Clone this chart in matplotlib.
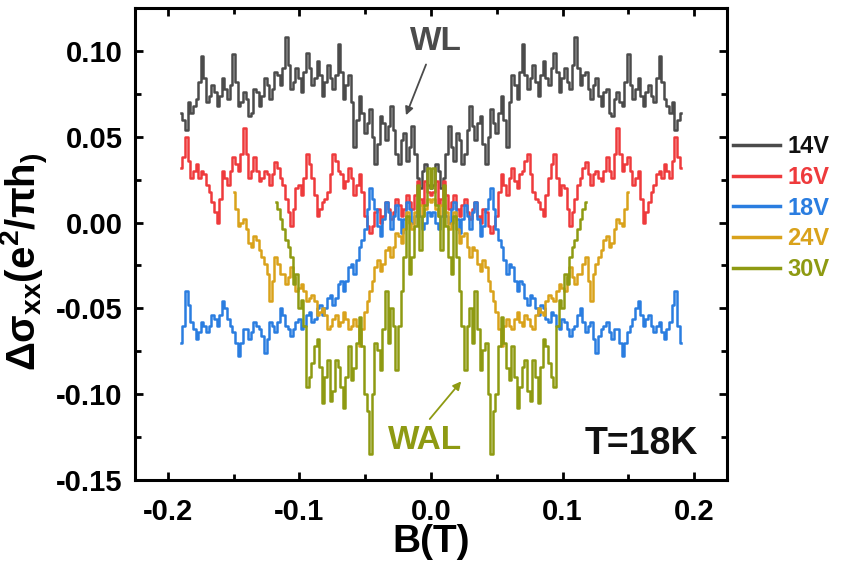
import numpy as np
import matplotlib
matplotlib.use("Agg")
import matplotlib.pyplot as plt

plt.rcParams['font.family'] = ['Liberation Sans', 'DejaVu Sans']
plt.rcParams['font.weight'] = 'bold'
plt.rcParams['axes.unicode_minus'] = False
plt.rcParams['mathtext.fontset'] = 'custom'
plt.rcParams['mathtext.rm'] = 'Liberation Sans:bold'
plt.rcParams['mathtext.it'] = 'Liberation Sans:bold'
plt.rcParams['mathtext.bf'] = 'Liberation Sans:bold'

labels = ['14V', '16V', '18V', '24V', '30V']

B_14 = np.linspace(-0.19, 0.19, 191)
B_16 = np.linspace(-0.19, 0.19, 191)
B_18 = np.linspace(-0.19, 0.19, 191)
B_24 = np.linspace(-0.15, 0.15, 151)
B_30 = np.linspace(-0.118, 0.118, 119)

s_14 = [0.064, 0.060, 0.054, 0.070, 0.064,
        0.068, 0.072, 0.082, 0.097, 0.084, 0.070, 0.074, 0.080, 0.076, 0.068,
        0.074, 0.084, 0.078, 0.072, 0.080, 0.098, 0.082, 0.068, 0.070, 0.076,
        0.072, 0.062, 0.064, 0.078, 0.076, 0.068, 0.074, 0.084, 0.080, 0.072,
        0.078, 0.088, 0.086, 0.080, 0.090, 0.108, 0.092, 0.078, 0.082, 0.090,
        0.084, 0.076, 0.088, 0.099, 0.090, 0.080, 0.084, 0.094, 0.086, 0.074,
        0.082, 0.092, 0.084, 0.078, 0.086, 0.104, 0.088, 0.072, 0.080, 0.086,
        0.070, 0.044, 0.060, 0.074, 0.064, 0.052, 0.058, 0.066, 0.050, 0.034,
        0.046, 0.062, 0.058, 0.048, 0.056, 0.068, 0.054, 0.040, 0.034, 0.048,
        0.052, 0.036, 0.044, 0.056, 0.040, 0.026, 0.020, 0.030, 0.034, 0.022,
        0.020,
        0.022, 0.034, 0.030, 0.020, 0.026, 0.040, 0.056, 0.044, 0.036, 0.052,
        0.048, 0.034, 0.040, 0.054, 0.068, 0.056, 0.048, 0.058, 0.062, 0.046,
        0.034, 0.050, 0.066, 0.058, 0.052, 0.064, 0.074, 0.060, 0.044, 0.070,
        0.086, 0.080, 0.072, 0.088, 0.104, 0.086, 0.078, 0.084, 0.092, 0.082,
        0.074, 0.086, 0.094, 0.084, 0.080, 0.090, 0.099, 0.088, 0.076, 0.084,
        0.090, 0.082, 0.078, 0.092, 0.108, 0.090, 0.080, 0.086, 0.088, 0.078,
        0.072, 0.080, 0.084, 0.074, 0.068, 0.076, 0.078, 0.064, 0.062, 0.072,
        0.076, 0.070, 0.068, 0.082, 0.098, 0.080, 0.072, 0.078, 0.084, 0.074,
        0.068, 0.076, 0.080, 0.074, 0.070, 0.084, 0.097, 0.082, 0.072, 0.068,
        0.064, 0.070, 0.054, 0.060, 0.064]

s_16 = [0.032, 0.038, 0.050, 0.036, 0.026,
        0.030, 0.034, 0.026, 0.030, 0.028, 0.022, 0.018, 0.012, 0.006, 0.000,
        0.014, 0.030, 0.026, 0.022, 0.030, 0.038, 0.034, 0.030, 0.040, 0.055,
        0.040, 0.026, 0.030, 0.038, 0.030, 0.024, 0.026, 0.030, 0.028, 0.022,
        0.028, 0.035, 0.032, 0.026, 0.022, 0.014, 0.006, -0.002, 0.008, 0.020,
        0.022, 0.016, 0.026, 0.040, 0.034, 0.026, 0.016, 0.004, 0.008, 0.012,
        0.014, 0.018, 0.028, 0.040, 0.036, 0.030, 0.028, 0.020, 0.024, 0.032,
        0.026, 0.016, 0.022, 0.028, 0.018, 0.004, -0.002, -0.006, -0.002, 0.006,
        0.008, 0.000, 0.004, 0.012, 0.008, 0.002, 0.006, 0.014, 0.010, 0.004,
        0.008, 0.016, 0.012, 0.008, 0.016, 0.024, 0.014, 0.010, 0.024, 0.018,
        0.016,
        0.018, 0.024, 0.010, 0.014, 0.024, 0.016, 0.008, 0.012, 0.016, 0.008,
        0.004, 0.010, 0.014, 0.006, 0.002, 0.008, 0.012, 0.004, 0.000, 0.008,
        0.006, -0.002, -0.006, -0.002, 0.004, 0.018, 0.028, 0.022, 0.016, 0.026,
        0.032, 0.024, 0.020, 0.028, 0.030, 0.036, 0.040, 0.028, 0.018, 0.014,
        0.012, 0.008, 0.004, 0.016, 0.026, 0.034, 0.040, 0.026, 0.016, 0.022,
        0.020, 0.008, -0.002, 0.006, 0.014, 0.022, 0.026, 0.032, 0.035, 0.028,
        0.022, 0.028, 0.030, 0.026, 0.024, 0.030, 0.038, 0.030, 0.026, 0.040,
        0.055, 0.040, 0.030, 0.034, 0.038, 0.030, 0.022, 0.026, 0.030, 0.014,
        0.000, 0.006, 0.012, 0.018, 0.022, 0.028, 0.030, 0.026, 0.034, 0.030,
        0.026, 0.036, 0.050, 0.038, 0.032]

s_18 = [-0.070, -0.060, -0.040, -0.048, -0.058,
        -0.062, -0.068, -0.064, -0.058, -0.060, -0.064, -0.060, -0.054, -0.056, -0.060,
        -0.054, -0.046, -0.050, -0.056, -0.060, -0.064, -0.070, -0.078, -0.070, -0.062,
        -0.062, -0.068, -0.064, -0.058, -0.060, -0.062, -0.066, -0.076, -0.068, -0.058,
        -0.060, -0.064, -0.058, -0.050, -0.054, -0.060, -0.062, -0.066, -0.062, -0.058,
        -0.056, -0.062, -0.060, -0.054, -0.052, -0.058, -0.056, -0.050, -0.048, -0.054,
        -0.050, -0.044, -0.042, -0.048, -0.044, -0.036, -0.034, -0.040, -0.034, -0.026,
        -0.024, -0.030, -0.022, -0.014, -0.010, -0.004, 0.008, 0.020, 0.014, 0.008,
        -0.002, -0.008, 0.002, 0.012, 0.006, -0.004, 0.004, 0.010, 0.002, -0.006,
        0.002, 0.012, 0.008, 0.000, 0.004, 0.010, 0.004, -0.004, 0.000, 0.006,
        0.004,
        0.006, 0.000, -0.004, 0.004, 0.010, 0.004, 0.000, 0.008, 0.012, 0.002,
        -0.006, 0.002, 0.010, 0.004, -0.004, 0.006, 0.012, 0.002, -0.008, -0.002,
        0.008, 0.014, 0.020, 0.008, -0.004, -0.010, -0.014, -0.022, -0.030, -0.024,
        -0.026, -0.034, -0.040, -0.034, -0.036, -0.044, -0.048, -0.042, -0.044, -0.050,
        -0.054, -0.048, -0.050, -0.056, -0.058, -0.052, -0.054, -0.060, -0.062, -0.056,
        -0.058, -0.062, -0.066, -0.062, -0.060, -0.054, -0.050, -0.058, -0.064, -0.060,
        -0.058, -0.068, -0.076, -0.066, -0.062, -0.060, -0.058, -0.064, -0.068, -0.062,
        -0.062, -0.070, -0.078, -0.070, -0.064, -0.060, -0.056, -0.050, -0.046, -0.054,
        -0.060, -0.056, -0.054, -0.060, -0.064, -0.060, -0.058, -0.064, -0.068, -0.062,
        -0.058, -0.048, -0.040, -0.060, -0.070]

s_24 = [0.018, 0.008, -0.002, 0.000, 0.002,
        -0.004, -0.012, -0.014, -0.008, -0.010, -0.016, -0.020, -0.024, -0.030, -0.046,
        -0.034, -0.020, -0.024, -0.030, -0.030, -0.036, -0.032, -0.026, -0.032, -0.040,
        -0.038, -0.036, -0.040, -0.046, -0.044, -0.042, -0.046, -0.054, -0.052, -0.050,
        -0.054, -0.062, -0.060, -0.056, -0.054, -0.060, -0.058, -0.052, -0.056, -0.062,
        -0.060, -0.056, -0.060, -0.072, -0.062, -0.052, -0.046, -0.040, -0.034, -0.026,
        -0.022, -0.028, -0.024, -0.016, -0.014, -0.020, -0.014, -0.006, -0.008, -0.012,
        -0.004, 0.006, 0.000, -0.004, 0.006, 0.016, 0.010, 0.004, 0.008, 0.014,
        0.012,
        0.014, 0.008, 0.004, 0.010, 0.016, 0.006, -0.004, 0.000, 0.006, -0.004,
        -0.012, -0.008, -0.006, -0.014, -0.020, -0.014, -0.016, -0.024, -0.028, -0.022,
        -0.026, -0.034, -0.040, -0.046, -0.052, -0.062, -0.072, -0.060, -0.056, -0.060,
        -0.062, -0.056, -0.052, -0.058, -0.060, -0.054, -0.056, -0.060, -0.062, -0.054,
        -0.050, -0.052, -0.054, -0.046, -0.042, -0.044, -0.046, -0.040, -0.036, -0.038,
        -0.040, -0.032, -0.026, -0.032, -0.036, -0.030, -0.030, -0.024, -0.020, -0.034,
        -0.046, -0.030, -0.024, -0.020, -0.016, -0.010, -0.008, -0.014, -0.012, -0.004,
        0.002, 0.000, -0.002, 0.008, 0.018]

s_30 = [0.012, 0.008, 0.002, -0.004, -0.010, -0.014, -0.020, -0.036, -0.030,
        -0.050, -0.045, -0.060, -0.096, -0.090, -0.082, -0.072, -0.068, -0.084, -0.105,
        -0.090, -0.080, -0.104, -0.098, -0.080, -0.084, -0.096, -0.108, -0.090, -0.072,
        -0.092, -0.085, -0.070, -0.055, -0.072, -0.100, -0.110, -0.135, -0.100, -0.070,
        -0.074, -0.086, -0.062, -0.040, -0.070, -0.050, -0.060, -0.086, -0.060, -0.040,
        -0.020, 0.004, -0.030, -0.020, -0.002, 0.022, -0.016, 0.004, 0.010, 0.032,
        0.020,
        0.032, 0.010, 0.004, -0.016, 0.022, -0.002, -0.020, -0.030, 0.004, -0.020,
        -0.040, -0.060, -0.086, -0.060, -0.050, -0.070, -0.040, -0.062, -0.086, -0.074,
        -0.070, -0.100, -0.135, -0.110, -0.100, -0.072, -0.055, -0.070, -0.085, -0.092,
        -0.072, -0.090, -0.108, -0.096, -0.084, -0.080, -0.098, -0.104, -0.080, -0.090,
        -0.105, -0.084, -0.068, -0.072, -0.082, -0.090, -0.096, -0.060, -0.045, -0.050,
        -0.030, -0.036, -0.020, -0.014, -0.010, -0.004, 0.002, 0.008, 0.012]

colors = ['#4b4b4b', '#ee3a3c', '#2a7de0', '#d9a21b', '#8e9a12']
text_colors = ['#111111', '#ee3a3c', '#2a7de0', '#d9a21b', '#8e9a12']

fig = plt.figure(figsize=(8.41, 5.74), dpi=100)
ax = fig.add_axes([135/841, 1-480/574, 592/841, 472/574])

series = [(B_14, s_14), (B_16, s_16), (B_18, s_18), (B_24, s_24), (B_30, s_30)]
for (b, s), c, lab in zip(series, colors, labels):
    ax.plot(b, s, color=c, lw=1.8, drawstyle='steps-mid', label=lab)

ax.set_xlim(-0.225, 0.225)
ax.set_ylim(-0.15, 0.125)
ax.set_xticks([-0.2, -0.1, 0.0, 0.1, 0.2])
ax.set_xticks([-0.15, -0.05, 0.05, 0.15], minor=True)
ax.set_yticks([-0.15, -0.10, -0.05, 0.0, 0.05, 0.10])
ax.set_yticks([-0.125, -0.075, -0.025, 0.025, 0.075, 0.125], minor=True)
ax.set_xticklabels(['-0.2', '-0.1', '0.0', '0.1', '0.2'])
ax.set_yticklabels(['-0.15', '-0.10', '-0.05', '0.00', '0.05', '0.10'])
for sp in ax.spines.values():
    sp.set_linewidth(2.2)
ax.tick_params(which='both', direction='in', top=True, right=True, width=2.0)
ax.tick_params(which='major', length=6, labelsize=21)
ax.tick_params(axis='y', which='major', pad=9)
ax.tick_params(axis='x', which='major', pad=13)
ax.tick_params(which='minor', length=4)

ax.set_xlabel('B(T)', fontsize=28, fontweight='bold')
ax.xaxis.set_label_coords(0.5, -0.094)
ax.set_ylabel(r'$\Delta\sigma_{xx}$(e$^{2}$/$\pi$h$_{)}$', fontsize=29, fontweight='bold')
ax.yaxis.set_label_coords(-0.142, 0.462)

ax.text(0.16, -0.129, 'T=18K', fontsize=27, fontweight='bold', ha='center', va='center', color='#111111')

ax.text(0.004, 0.1052, 'WL', fontsize=24, fontweight='bold', ha='center', va='center', color='#4b4b4b')
ax.annotate('', xy=(-0.0198, 0.061), xytext=(-0.003, 0.0936),
            arrowprops=dict(arrowstyle='-|>', color='#4b4b4b', lw=1.3, mutation_scale=12))
ax.text(-0.0046, -0.1267, 'WAL', fontsize=24, fontweight='bold', ha='center', va='center', color='#8e9a12')
ax.annotate('', xy=(0.0243, -0.0913), xytext=(-0.0023, -0.1157),
            arrowprops=dict(arrowstyle='-|>', color='#8e9a12', lw=1.3, mutation_scale=12))

leg = fig.legend(loc='upper left', bbox_to_anchor=(733/841, 1-135/574), frameon=False,
                 fontsize=17, handlelength=2.0, handletextpad=0.3, labelspacing=0.33,
                 borderpad=0, borderaxespad=0)
for t, c in zip(leg.get_texts(), text_colors):
    t.set_color(c)
    t.set_fontweight('bold')
for h in leg.get_lines():
    h.set_linewidth(2.5)

fig.savefig('out.png', dpi=100)
